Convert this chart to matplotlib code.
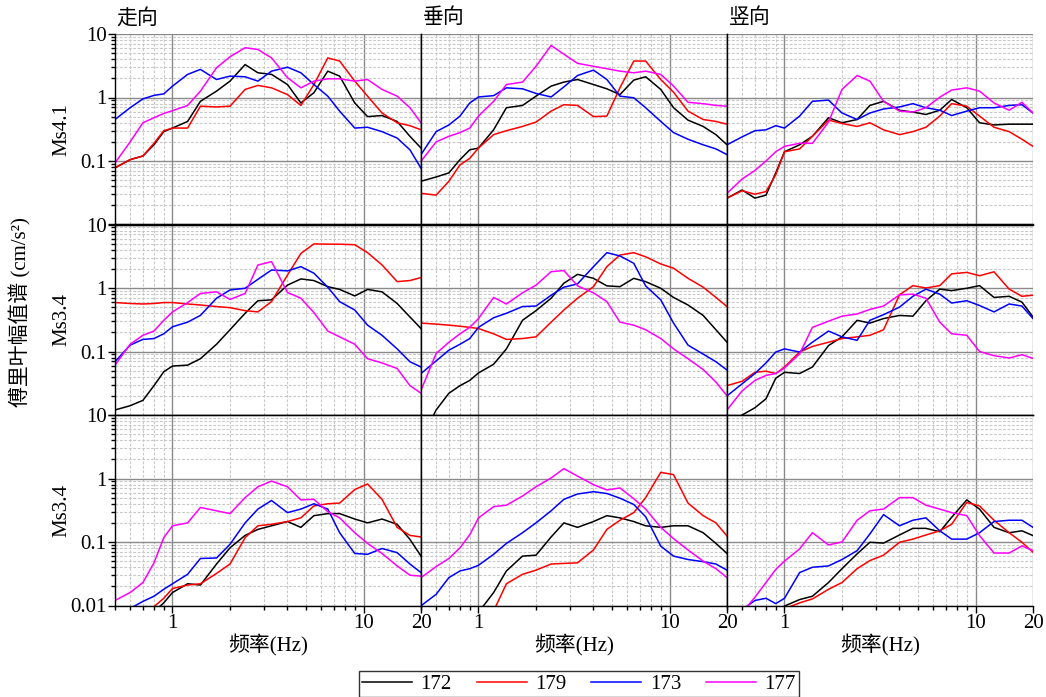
import matplotlib.pyplot as plt
import numpy as np
from matplotlib.ticker import LogLocator, NullFormatter

plt.rcParams['font.family'] = ['Liberation Serif', 'Noto Sans CJK SC']

# 频率采样点 (Hz)
freq = [0.5, 0.6, 0.7, 0.8, 0.9, 1.0, 1.2, 1.4, 1.7, 2.0, 2.4, 2.8,
        3.3, 4.0, 4.7, 5.5, 6.5, 7.5, 9.0, 10.5, 12.5, 15, 17.5, 20]

stations = ['172', '179', '173', '177']
colors = ['black', 'red', 'blue', 'magenta']
col_titles = ['走向', '垂向', '竖向']
row_labels = ['Ms4.1', 'Ms3.4', 'Ms3.4']

# Ms4.1
along_41 = {
    '172': [0.078, 0.105, 0.12, 0.18, 0.29, 0.33, 0.42, 0.87, 1.26, 1.81, 3.3, 2.45, 2.31, 1.6, 0.82, 1.19, 2.6, 2.17, 0.82, 0.5, 0.52, 0.42, 0.245, 0.16],
    '179': [0.078, 0.105, 0.12, 0.19, 0.30, 0.33, 0.33, 0.73, 0.71, 0.73, 1.34, 1.55, 1.42, 1.11, 0.75, 1.6, 4.2, 3.75, 1.81, 1.05, 0.57, 0.40, 0.36, 0.31],
    '173': [0.45, 0.69, 0.95, 1.08, 1.14, 1.51, 2.31, 2.77, 1.92, 2.17, 2.12, 1.81, 2.6, 3.0, 2.45, 1.6, 1.05, 0.61, 0.33, 0.34, 0.29, 0.23, 0.15, 0.077],
    '177': [0.093, 0.2, 0.40, 0.48, 0.56, 0.62, 0.75, 1.26, 2.94, 4.38, 6.08, 5.7, 4.2, 2.05, 1.42, 1.81, 1.97, 1.97, 1.81, 1.92, 1.34, 1.05, 0.69, 0.40],
}
cross_41 = {
    '172': [0.048, 0.056, 0.065, 0.105, 0.15, 0.16, 0.31, 0.69, 0.75, 1.05, 1.51, 1.75, 1.92, 1.6, 1.37, 1.11, 1.88, 2.12, 1.34, 0.69, 0.44, 0.35, 0.26, 0.18],
    '179': [0.031, 0.029, 0.048, 0.087, 0.11, 0.16, 0.26, 0.30, 0.35, 0.41, 0.61, 0.77, 0.75, 0.50, 0.51, 1.42, 3.75, 3.75, 1.92, 1.21, 0.61, 0.45, 0.42, 0.38],
    '173': [0.126, 0.29, 0.37, 0.51, 0.82, 1.02, 1.07, 1.42, 1.37, 1.16, 1.02, 1.47, 2.22, 2.7, 1.92, 1.05, 0.99, 0.69, 0.42, 0.28, 0.22, 0.18, 0.155, 0.126],
    '177': [0.099, 0.20, 0.245, 0.28, 0.33, 0.51, 0.87, 1.6, 1.75, 3.1, 6.6, 4.8, 3.45, 3.1, 2.84, 2.6, 2.45, 2.6, 2.31, 1.51, 0.84, 0.80, 0.75, 0.73],
}
vert_41 = {
    '172': [0.026, 0.035, 0.026, 0.029, 0.065, 0.14, 0.18, 0.245, 0.48, 0.40, 0.45, 0.75, 0.87, 0.63, 0.59, 0.54, 0.63, 0.93, 0.69, 0.40, 0.37, 0.38, 0.38, 0.38],
    '179': [0.026, 0.034, 0.030, 0.033, 0.061, 0.14, 0.155, 0.245, 0.44, 0.39, 0.35, 0.40, 0.31, 0.26, 0.29, 0.34, 0.51, 0.80, 0.73, 0.51, 0.34, 0.29, 0.22, 0.17],
    '173': [0.18, 0.24, 0.30, 0.31, 0.36, 0.33, 0.51, 0.87, 0.91, 0.57, 0.45, 0.57, 0.66, 0.71, 0.80, 0.69, 0.63, 0.52, 0.61, 0.69, 0.69, 0.75, 0.77, 0.57],
    '177': [0.031, 0.052, 0.071, 0.10, 0.14, 0.17, 0.19, 0.19, 0.41, 1.34, 2.22, 1.81, 0.87, 0.61, 0.59, 0.69, 1.01, 1.31, 1.42, 1.26, 0.82, 0.63, 0.84, 0.57],
}

# Ms3.4 (第一次)
along_34a = {
    '172': [0.012, 0.014, 0.017, 0.029, 0.048, 0.059, 0.061, 0.077, 0.13, 0.22, 0.40, 0.63, 0.65, 1.11, 1.39, 1.31, 1.05, 0.95, 0.75, 0.95, 0.87, 0.57, 0.35, 0.23],
    '179': [0.59, 0.57, 0.56, 0.57, 0.59, 0.59, 0.56, 0.54, 0.51, 0.49, 0.44, 0.42, 0.61, 1.6, 3.5, 4.95, 4.9, 4.9, 4.8, 3.6, 2.31, 1.26, 1.31, 1.46],
    '173': [0.069, 0.126, 0.155, 0.16, 0.19, 0.245, 0.29, 0.37, 0.69, 0.93, 0.99, 1.37, 1.92, 1.86, 2.17, 1.71, 1.03, 0.61, 0.45, 0.26, 0.18, 0.11, 0.069, 0.057],
    '177': [0.061, 0.13, 0.18, 0.21, 0.31, 0.42, 0.59, 0.82, 0.87, 0.66, 0.82, 2.3, 2.6, 0.85, 0.69, 0.41, 0.21, 0.17, 0.13, 0.077, 0.066, 0.054, 0.029, 0.022],
}
cross_34a = {
    '172': [0.004, 0.012, 0.022, 0.029, 0.035, 0.046, 0.063, 0.11, 0.31, 0.44, 0.69, 1.19, 1.64, 1.42, 1.08, 1.05, 1.42, 1.26, 0.99, 0.71, 0.54, 0.37, 0.22, 0.14],
    '179': [0.28, 0.27, 0.26, 0.25, 0.24, 0.23, 0.19, 0.155, 0.16, 0.17, 0.29, 0.45, 0.69, 1.05, 2.17, 3.3, 3.6, 3.1, 2.39, 2.05, 1.42, 1.03, 0.71, 0.51],
    '173': [0.045, 0.071, 0.105, 0.13, 0.16, 0.24, 0.34, 0.40, 0.51, 0.52, 0.77, 1.03, 1.16, 2.17, 3.6, 3.2, 2.45, 1.08, 0.65, 0.28, 0.126, 0.091, 0.069, 0.051],
    '177': [0.0245, 0.093, 0.14, 0.19, 0.24, 0.33, 0.71, 0.56, 0.84, 1.11, 1.81, 1.88, 1.08, 0.84, 0.61, 0.29, 0.26, 0.22, 0.16, 0.11, 0.077, 0.052, 0.033, 0.020],
}
vert_34a = {
    '172': [0.006, 0.010, 0.013, 0.018, 0.038, 0.047, 0.045, 0.057, 0.124, 0.17, 0.31, 0.28, 0.33, 0.37, 0.36, 0.63, 0.96, 0.91, 0.99, 1.09, 0.71, 0.74, 0.60, 0.35],
    '179': [0.029, 0.034, 0.047, 0.049, 0.045, 0.057, 0.098, 0.12, 0.14, 0.16, 0.17, 0.18, 0.22, 0.78, 1.09, 1.0, 1.09, 1.67, 1.76, 1.56, 1.8, 0.96, 0.74, 0.77],
    '173': [0.020, 0.031, 0.045, 0.066, 0.098, 0.11, 0.098, 0.14, 0.21, 0.17, 0.15, 0.31, 0.38, 0.50, 0.74, 0.96, 0.80, 0.58, 0.63, 0.53, 0.42, 0.56, 0.52, 0.33],
    '177': [0.012, 0.024, 0.035, 0.042, 0.045, 0.055, 0.092, 0.24, 0.30, 0.36, 0.39, 0.46, 0.52, 0.78, 0.80, 0.69, 0.29, 0.19, 0.18, 0.10, 0.086, 0.079, 0.089, 0.078],
}

# Ms3.4 (第二次)
along_34b = {
    '172': [0.003, 0.0042, 0.006, 0.008, 0.011, 0.016, 0.022, 0.021, 0.045, 0.081, 0.127, 0.158, 0.18, 0.21, 0.17, 0.26, 0.28, 0.28, 0.23, 0.20, 0.23, 0.19, 0.11, 0.060],
    '179': [0.0026, 0.0042, 0.0065, 0.0096, 0.013, 0.0185, 0.021, 0.022, 0.032, 0.045, 0.117, 0.18, 0.19, 0.21, 0.24, 0.37, 0.40, 0.41, 0.67, 0.82, 0.47, 0.17, 0.127, 0.12],
    '173': [0.0057, 0.009, 0.0116, 0.014, 0.018, 0.022, 0.031, 0.055, 0.056, 0.092, 0.20, 0.33, 0.45, 0.29, 0.33, 0.40, 0.33, 0.14, 0.066, 0.064, 0.079, 0.068, 0.045, 0.033],
    '177': [0.012, 0.016, 0.023, 0.047, 0.117, 0.18, 0.20, 0.35, 0.31, 0.28, 0.50, 0.74, 0.91, 0.74, 0.46, 0.47, 0.30, 0.24, 0.14, 0.095, 0.066, 0.042, 0.030, 0.029],
}
cross_34b = {
    '172': [0.0008, 0.0012, 0.0018, 0.0027, 0.005, 0.0078, 0.016, 0.035, 0.060, 0.062, 0.12, 0.20, 0.17, 0.21, 0.26, 0.24, 0.21, 0.18, 0.17, 0.18, 0.18, 0.14, 0.095, 0.066],
    '179': [0.0004, 0.0007, 0.0012, 0.0018, 0.0026, 0.0037, 0.0082, 0.022, 0.031, 0.036, 0.045, 0.046, 0.047, 0.075, 0.158, 0.22, 0.29, 0.50, 1.25, 1.15, 0.41, 0.26, 0.20, 0.124],
    '173': [0.0099, 0.015, 0.0275, 0.035, 0.038, 0.043, 0.064, 0.095, 0.14, 0.20, 0.31, 0.47, 0.57, 0.62, 0.58, 0.49, 0.39, 0.25, 0.086, 0.060, 0.053, 0.049, 0.045, 0.036],
    '177': [0.0275, 0.041, 0.055, 0.081, 0.13, 0.24, 0.36, 0.38, 0.53, 0.74, 1.02, 1.43, 1.09, 0.80, 0.66, 0.71, 0.48, 0.33, 0.17, 0.113, 0.075, 0.050, 0.038, 0.0275],
}
vert_34b = {
    '172': [0.0015, 0.0025, 0.0038, 0.0052, 0.007, 0.0098, 0.0124, 0.014, 0.023, 0.038, 0.065, 0.099, 0.096, 0.129, 0.164, 0.164, 0.145, 0.245, 0.46, 0.33, 0.17, 0.14, 0.15, 0.126],
    '179': [0.0012, 0.002, 0.0032, 0.0047, 0.0065, 0.0089, 0.011, 0.0127, 0.018, 0.023, 0.038, 0.051, 0.062, 0.099, 0.111, 0.129, 0.15, 0.19, 0.42, 0.37, 0.22, 0.14, 0.099, 0.069],
    '173': [0.0049, 0.0086, 0.012, 0.013, 0.0107, 0.013, 0.033, 0.040, 0.042, 0.053, 0.073, 0.134, 0.27, 0.18, 0.22, 0.24, 0.15, 0.111, 0.111, 0.14, 0.21, 0.22, 0.22, 0.17],
    '177': [0.0038, 0.0077, 0.0135, 0.023, 0.037, 0.050, 0.078, 0.14, 0.090, 0.10, 0.22, 0.31, 0.33, 0.50, 0.50, 0.38, 0.33, 0.29, 0.26, 0.126, 0.067, 0.067, 0.087, 0.073],
}

panels = [[along_41, cross_41, vert_41],
          [along_34a, cross_34a, vert_34a],
          [along_34b, cross_34b, vert_34b]]

W, H = 1046, 697
left_px = [115, 421, 727]
top_px = [34, 224.5, 415]
aw, ah = 306, 190.5

fig = plt.figure(figsize=(W / 100, H / 100), dpi=100)

for r in range(3):
    for c in range(3):
        ax = fig.add_axes([left_px[c] / W, 1 - (top_px[r] + ah) / H, aw / W, ah / H])
        data = panels[r][c]
        for st, colr in zip(stations, colors):
            ax.plot(freq, data[st], color=colr, lw=1.1, label=st,
                    solid_joinstyle='round')
        ax.set_xscale('log')
        ax.set_yscale('log')
        ax.set_xlim(0.5, 20)
        ax.set_ylim(0.01, 10)

        # 刻度
        ax.set_xticks([1, 10, 20])
        ax.set_xticklabels(['1', '10', '20'])
        ax.xaxis.set_minor_locator(LogLocator(base=10, subs=np.arange(2, 10), numticks=50))
        ax.xaxis.set_minor_formatter(NullFormatter())
        ax.set_yticks([0.01, 0.1, 1, 10])
        ax.set_yticklabels(['0.01' if r == 2 else '', '0.1', '1', '10'])
        ax.yaxis.set_minor_locator(LogLocator(base=10, subs=np.arange(2, 10), numticks=50))
        ax.yaxis.set_minor_formatter(NullFormatter())
        ax.tick_params(which='both', direction='out', labelsize=15, width=1, pad=1,
                       top=False, right=False,
                       left=(c == 0), labelleft=(c == 0),
                       bottom=(r == 2), labelbottom=(r == 2))
        ax.tick_params(which='major', length=5)
        ax.tick_params(which='minor', length=3)

        # 网格
        ax.grid(True, which='major', color='#8a8a8a', lw=1.0, ls='-')
        ax.grid(True, which='minor', color='#c8c8c8', lw=0.8, ls=(0, (2.5, 1.5)))
        ax.set_axisbelow(True)

        for side in ['left', 'right', 'top', 'bottom']:
            ax.spines[side].set_color('black')
            ax.spines[side].set_linewidth(1.0)
        if r == 0:
            ax.spines['top'].set_visible(False)
        if c == 2:
            ax.spines['right'].set_visible(False)

        if r == 0:
            ax.text(0.005, 1.03, col_titles[c], transform=ax.transAxes,
                    ha='left', va='bottom', fontsize=15)
        if r == 2:
            fig.text((left_px[c] + aw / 2) / W, 1 - 645 / H, '频率(Hz)',
                     ha='center', va='center', fontsize=15)
        if r == 0 and c == 0:
            handles, labels = ax.get_legend_handles_labels()

for r in range(3):
    fig.text(62 / W, 1 - (top_px[r] + ah / 2) / H, row_labels[r], rotation=90,
             ha='center', va='center', fontsize=15)

fig.text(20 / W, 1 - 312 / H, '傅里叶幅值谱 (cm/s²)', rotation=90,
         ha='center', va='center', fontsize=15)

leg = fig.legend(handles, labels, loc='center', bbox_to_anchor=(579 / W, 1 - 684 / H),
                 ncol=4, frameon=True, fancybox=False, fontsize=15,
                 handlelength=2.4, handletextpad=0.4, columnspacing=1.2,
                 borderpad=0.15, borderaxespad=0)
leg.get_frame().set_edgecolor('black')
leg.get_frame().set_linewidth(1.0)
for line in leg.get_lines():
    line.set_linewidth(1.1)

fig.savefig('out.png', dpi=100)
